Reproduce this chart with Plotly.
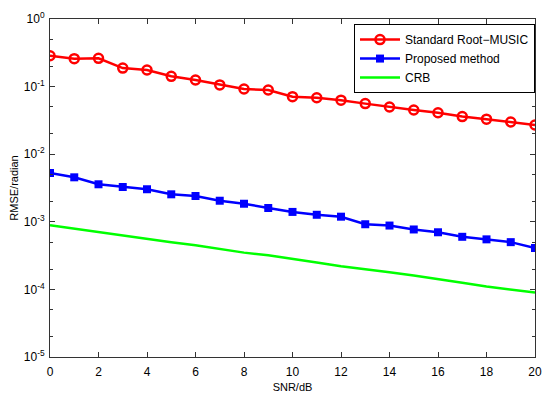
import plotly.graph_objects as go

snr = list(range(0, 21))
root_music = [0.286, 0.259, 0.262, 0.188, 0.176, 0.142, 0.125, 0.106, 0.092, 0.089,
              0.071, 0.0685, 0.063, 0.056, 0.050, 0.045, 0.041, 0.036, 0.033, 0.030, 0.027]
proposed = [0.00527, 0.00455, 0.00359, 0.00327, 0.00303, 0.00255, 0.00241, 0.00205, 0.00185, 0.0016,
            0.0014, 0.00127, 0.00119, 0.00092, 0.00088, 0.00077, 0.00070, 0.00060, 0.00055, 0.00050, 0.00041]
crb = [8.9e-4, 7.9e-4, 7.1e-4, 6.3e-4, 5.6e-4, 5.0e-4, 4.5e-4, 4.0e-4, 3.5e-4, 3.2e-4,
       2.8e-4, 2.5e-4, 2.2e-4, 2.0e-4, 1.8e-4, 1.6e-4, 1.4e-4, 1.25e-4, 1.1e-4, 1.0e-4, 9.0e-5]

x_ticks = [0, 2, 4, 6, 8, 10, 12, 14, 16, 18, 20]
y_tickvals = [1, 0.1, 0.01, 0.001, 0.0001, 0.00001]
y_ticktext = ["10<sup>0</sup>", "10<sup>-1</sup>", "10<sup>-2</sup>", "10<sup>-3</sup>", "10<sup>-4</sup>", "10<sup>-5</sup>"]

fig = go.Figure()
fig.add_trace(go.Scatter(x=snr, y=root_music, mode="lines+markers", name="Standard Root\u2212MUSIC",
                         line=dict(color="#ff0000", width=2.5),
                         marker=dict(symbol="circle-open", size=9, color="#ff0000", line=dict(width=2.5))))
fig.add_trace(go.Scatter(x=snr, y=proposed, mode="lines+markers", name="Proposed method",
                         line=dict(color="#0000ff", width=2.5),
                         marker=dict(symbol="square", size=8, color="#0000ff")))
fig.add_trace(go.Scatter(x=snr, y=crb, mode="lines", name="CRB",
                         line=dict(color="#00ff00", width=2.5)))

axis_common = dict(showline=True, linecolor="#333333", linewidth=1, mirror="ticks",
                   ticks="inside", tickcolor="#333333", showgrid=False, zeroline=False,
                   automargin=False)

# page body has an 8px default margin; figure sized/margined to compensate
fig.update_layout(
    width=542, height=391,
    margin=dict(l=42, r=15, t=11, b=42),
    paper_bgcolor="white", plot_bgcolor="white",
    font=dict(family="Liberation Sans, Arial, sans-serif", size=12, color="black"),
    xaxis=dict(range=[0, 20], tickvals=x_ticks, ticklen=5, tickfont=dict(size=12),
               ticklabelstandoff=4,
               title=dict(text="SNR/dB", standoff=4, font=dict(size=11)), **axis_common),
    yaxis=dict(type="log", range=[-5, 0], tickvals=y_tickvals, ticktext=y_ticktext, ticklen=5,
               tickfont=dict(size=12), ticklabelstandoff=2,
               minor=dict(ticks="inside", ticklen=3, tickcolor="#333333", showgrid=False),
               title=dict(text="RMSE/radian", standoff=6, font=dict(size=11)), **axis_common),
    legend=dict(x=1.0, y=0.985, xanchor="right", yanchor="top", bgcolor="white",
                bordercolor="black", borderwidth=1, font=dict(size=12),
                tracegroupgap=0, itemwidth=40),
    showlegend=True,
)

fig.write_html("out.html")
